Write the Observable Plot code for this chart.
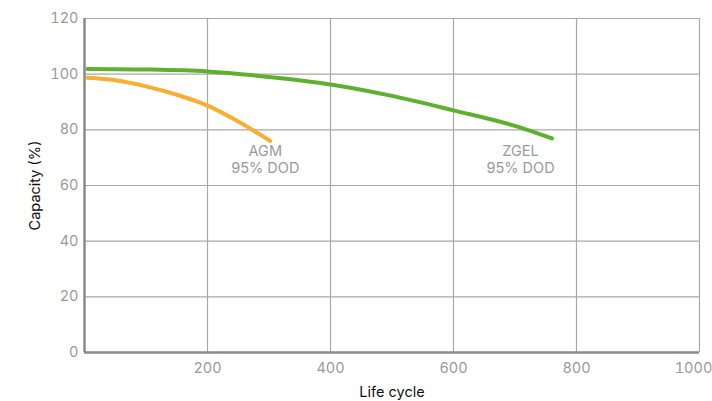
<!DOCTYPE html>
<html>
<head>
<meta charset="utf-8">
<script src="https://cdn.jsdelivr.net/npm/d3@7"></script>
<script src="https://cdn.jsdelivr.net/npm/@observablehq/plot@0.6"></script>
<style>
  html, body { margin: 0; padding: 0; background: #fff; }
  #chart svg { font-family: Inter, "Noto Sans", sans-serif; overflow: visible; }
</style>
</head>
<body>
<div id="chart"></div>
<script>
// Data
const zgelCycles = [5, 100, 200, 300, 400, 500, 600, 700, 760];
const zgelCapacity = [101.9, 101.7, 101.0, 99.0, 96.3, 92.2, 87.0, 81.4, 76.9];
const agmCycles = [5, 50, 100, 150, 200, 250, 302];
const agmCapacity = [98.7, 97.8, 95.6, 92.6, 88.7, 83.0, 76.0];
const xTicks = [200, 400, 600, 800];
const xLastTick = [1000];
const yTicks = [0, 20, 40, 60, 80, 100, 120];
const seriesNames = ["AGM", "ZGEL"];
const labelSubtitle = "95% DOD";
const labelCycles = [294, 709];
const labelNameCapacity = 72.1;
const labelSubCapacity = 66.0;

const zgel = zgelCycles.map((c, i) => ({cycle: c, capacity: zgelCapacity[i]}));
const agm = agmCycles.map((c, i) => ({cycle: c, capacity: agmCapacity[i]}));
const nameLabels = seriesNames.map((n, i) => ({text: n, cycle: labelCycles[i], capacity: labelNameCapacity}));
const subLabels = seriesNames.map((n, i) => ({text: labelSubtitle, cycle: labelCycles[i], capacity: labelSubCapacity}));

const gridColor = "#a8a8a8";
const axisColor = "#8a8a8a";
const tickColor = "#9a9a9a";

const chart = Plot.plot({
  width: 712,
  height: 401,
  marginLeft: 84,
  marginRight: 13,
  marginTop: 18,
  marginBottom: 49,
  style: {fontSize: "15px", fontFamily: "Inter, 'Noto Sans', sans-serif", background: "#fff", overflow: "visible"},
  x: {domain: [0, 1000]},
  y: {domain: [0, 120]},
  marks: [
    Plot.gridX([...xTicks, ...xLastTick], {stroke: gridColor, strokeOpacity: 1, strokeWidth: 1.2}),
    Plot.gridY(yTicks, {stroke: gridColor, strokeOpacity: 1, strokeWidth: 1.2}),
    Plot.ruleX([0], {stroke: axisColor, strokeWidth: 2.5}),
    Plot.ruleY([0], {stroke: axisColor, strokeWidth: 2.5}),
    Plot.axisX(xTicks, {tickSize: 0, tickPadding: 10, fill: tickColor, color: tickColor, fontSize: 14.5,
      tickFormat: d3.format("d"),
      label: "Life cycle", labelAnchor: "center", labelArrow: "none", labelOffset: 44}),
    Plot.axisX(xLastTick, {tickSize: 0, tickPadding: 10, fill: tickColor, color: tickColor, fontSize: 14.5,
      tickFormat: d3.format("d"), dx: -6, label: null}),
    Plot.axisY(yTicks, {tickSize: 0, tickPadding: 6, fill: tickColor, color: tickColor, fontSize: 14.5,
      tickFormat: d3.format("d"),
      label: "Capacity (%)", labelAnchor: "center", labelArrow: "none", labelOffset: 55}),
    Plot.line(agm, {x: "cycle", y: "capacity", stroke: "#f9ae30", strokeWidth: 4, curve: "monotone-x"}),
    Plot.line(zgel, {x: "cycle", y: "capacity", stroke: "#5db12e", strokeWidth: 4, curve: "monotone-x"}),
    Plot.text(nameLabels, {x: "cycle", y: "capacity", text: "text", fill: "#9a9a9a", fontSize: 14.5}),
    Plot.text(subLabels, {x: "cycle", y: "capacity", text: "text", fill: "#9a9a9a", fontSize: 14.5})
  ]
});
document.getElementById("chart").appendChild(chart);
chart.querySelectorAll("[aria-label='x-axis label'] text, [aria-label='y-axis label'] text").forEach(t => t.setAttribute("fill", "#111"));
</script>
</body>
</html>
